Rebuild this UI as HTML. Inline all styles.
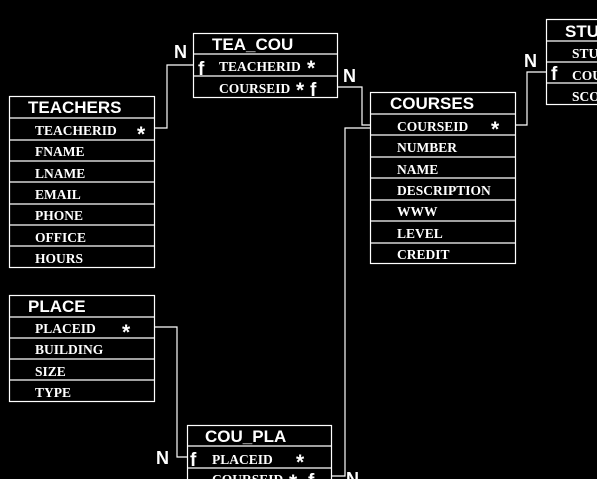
<!DOCTYPE html>
<html><head><style>
html,body{margin:0;padding:0;background:#000;width:597px;height:479px;overflow:hidden}
svg{display:block}
.h{font-family:"Liberation Sans",sans-serif;font-weight:bold;font-size:17px;fill:#fff}
.f{font-family:"Liberation Serif",serif;font-size:13.5px;font-weight:bold;fill:#fff}
.s{font-family:"Liberation Sans",sans-serif;font-weight:bold;font-size:21px;fill:#fff}
.ff{font-family:"Liberation Sans",sans-serif;font-weight:bold;font-size:19px;fill:#fff}
.n{font-family:"Liberation Sans",sans-serif;font-weight:bold;font-size:18px;fill:#fff}
rect,line,polyline{stroke:#fff;stroke-width:1.2;fill:none}
</style></head><body>
<svg width="597" height="479" viewBox="0 0 597 479">
<polyline points="155,128 167,128 167,65 193,65"/>
<polyline points="337,87 362,87 362,125 370,125"/>
<polyline points="515,125 527,125 527,72 546,72"/>
<polyline points="370,128 345,128 345,476 331,476"/>
<polyline points="155,327 177,327 177,457 187,457"/>

<rect x="193.5" y="33.5" width="144" height="64"/>
<line x1="193" y1="54" x2="337" y2="54"/><line x1="193" y1="76" x2="337" y2="76"/>
<text class="h" x="212" y="50">TEA_COU</text>
<text class="ff" x="198" y="75">f</text>
<text class="f" x="219" y="71">TEACHERID</text>
<text class="s" x="307" y="75">*</text>
<text class="f" x="219" y="93">COURSEID</text>
<text class="s" x="296" y="97">*</text>
<text class="ff" x="310" y="96">f</text>

<rect x="9.5" y="96.5" width="145" height="171"/>
<line x1="9" y1="118" x2="155" y2="118"/><line x1="9" y1="140" x2="155" y2="140"/>
<line x1="9" y1="161" x2="155" y2="161"/><line x1="9" y1="182" x2="155" y2="182"/>
<line x1="9" y1="204" x2="155" y2="204"/><line x1="9" y1="225" x2="155" y2="225"/>
<line x1="9" y1="246" x2="155" y2="246"/>
<text class="h" x="28" y="113">TEACHERS</text>
<text class="f" x="35" y="135">TEACHERID</text><text class="s" x="137" y="141">*</text>
<text class="f" x="35" y="156">FNAME</text>
<text class="f" x="35" y="178">LNAME</text>
<text class="f" x="35" y="199">EMAIL</text>
<text class="f" x="35" y="220">PHONE</text>
<text class="f" x="35" y="242">OFFICE</text>
<text class="f" x="35" y="263">HOURS</text>

<rect x="370.5" y="92.5" width="145" height="171"/>
<line x1="370" y1="114" x2="515" y2="114"/><line x1="370" y1="135" x2="515" y2="135"/>
<line x1="370" y1="157" x2="515" y2="157"/><line x1="370" y1="178" x2="515" y2="178"/>
<line x1="370" y1="200" x2="515" y2="200"/><line x1="370" y1="221" x2="515" y2="221"/>
<line x1="370" y1="243" x2="515" y2="243"/>
<text class="h" x="390" y="109">COURSES</text>
<text class="f" x="397" y="131">COURSEID</text><text class="s" x="491" y="136">*</text>
<text class="f" x="397" y="152">NUMBER</text>
<text class="f" x="397" y="174">NAME</text>
<text class="f" x="397" y="195">DESCRIPTION</text>
<text class="f" x="397" y="216">WWW</text>
<text class="f" x="397" y="238">LEVEL</text>
<text class="f" x="397" y="259">CREDIT</text>

<rect x="546.5" y="19.5" width="60" height="85"/>
<line x1="546" y1="41" x2="597" y2="41"/><line x1="546" y1="62" x2="597" y2="62"/>
<line x1="546" y1="83" x2="597" y2="83"/>
<text class="h" x="565" y="37">STU</text>
<text class="f" x="572" y="58">STU</text>
<text class="ff" x="551" y="80">f</text>
<text class="f" x="572" y="80">COU</text>
<text class="f" x="572" y="101">SCO</text>

<rect x="9.5" y="295.5" width="145" height="106"/>
<line x1="9" y1="317" x2="155" y2="317"/><line x1="9" y1="338" x2="155" y2="338"/>
<line x1="9" y1="359" x2="155" y2="359"/><line x1="9" y1="380" x2="155" y2="380"/>
<text class="h" x="28" y="312">PLACE</text>
<text class="f" x="35" y="333">PLACEID</text><text class="s" x="122" y="339">*</text>
<text class="f" x="35" y="354">BUILDING</text>
<text class="f" x="35" y="376">SIZE</text>
<text class="f" x="35" y="397">TYPE</text>

<rect x="187.5" y="425.5" width="144" height="70"/>
<line x1="187" y1="446" x2="331" y2="446"/><line x1="187" y1="468" x2="331" y2="468"/>
<text class="h" x="205" y="442">COU_PLA</text>
<text class="ff" x="190" y="466">f</text>
<text class="f" x="212" y="464">PLACEID</text><text class="s" x="296" y="469">*</text>
<text class="f" x="212" y="484">COURSEID</text><text class="s" x="289" y="489">*</text>
<text class="ff" x="308" y="487">f</text>

<text class="n" x="174" y="58">N</text>
<text class="n" x="343" y="82">N</text>
<text class="n" x="524" y="67">N</text>
<text class="n" x="156" y="464">N</text>
<text class="n" x="346" y="485">N</text>
</svg>
</body></html>
